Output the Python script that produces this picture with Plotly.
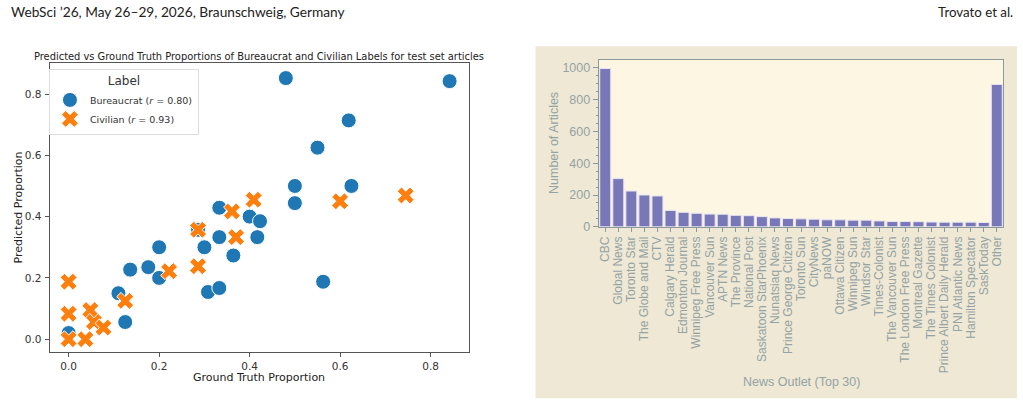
import plotly.graph_objects as go

W, H = 1023, 415

# ---------------- data: left scatter ----------------
bur_x = [0.0, 0.11, 0.125, 0.136, 0.176, 0.2, 0.2, 0.286, 0.3, 0.308, 0.333, 0.333, 0.333,
         0.364, 0.4, 0.423, 0.417, 0.5, 0.5, 0.5625, 0.625, 0.48, 0.842, 0.619, 0.55]
bur_y = [0.02, 0.15, 0.056, 0.227, 0.235, 0.3, 0.2, 0.357, 0.3, 0.154, 0.429, 0.333, 0.167,
         0.273, 0.4, 0.385, 0.333, 0.5, 0.444, 0.1875, 0.5, 0.852, 0.842, 0.714, 0.625]
civ_x = [0.0, 0.0, 0.0, 0.037, 0.048, 0.056, 0.077, 0.125, 0.222, 0.286, 0.286, 0.361,
         0.37, 0.409, 0.6, 0.745]
civ_y = [0.1875, 0.083, 0.0, 0.0, 0.095, 0.056, 0.038, 0.125, 0.222, 0.357, 0.238, 0.417,
         0.333, 0.455, 0.45, 0.469]
bur_name = "Bureaucrat (<i>r</i> = 0.80)"
civ_name = "Civilian (<i>r</i> = 0.93)"
left_ticks = [0, 0.2, 0.4, 0.6, 0.8]
left_ticktext = ["0.0", "0.2", "0.4", "0.6", "0.8"]

# ---------------- data: right bar chart ----------------
outlets = ["CBC", "Global News", "Toronto Star", "The Globe and Mail", "CTV", "Calgary Herald",
           "Edmonton Journal", "Winnipeg Free Press", "Vancouver Sun", "APTN News", "The Province",
           "National Post", "Saskatoon StarPhoenix", "Nunatsiaq News", "Prince George Citizen",
           "Toronto Sun", "CityNews", "paNOW", "Ottawa Citizen", "Winnipeg Sun", "Windsor Star",
           "Times-Colonist", "The Vancouver Sun", "The London Free Press", "Montreal Gazette",
           "The Times Colonist", "Prince Albert Daily Herald", "PNI Atlantic News",
           "Hamilton Spectator", "SaskToday", "Other"]
counts = [995, 303, 225, 200, 194, 103, 91, 85, 80, 79, 72, 70, 64, 56, 52, 50, 48, 44, 44,
          42, 42, 37, 33, 33, 32, 30, 29, 29, 29, 27, 895]

def px(x):
    return x / W

def py(y):
    return 1 - y / H

fig = go.Figure()

fig.add_trace(go.Scatter(
    x=bur_x, y=bur_y, mode="markers", name=bur_name,
    marker=dict(symbol="circle", size=15, color="#1f77b4", line=dict(color="white", width=1)),
    xaxis="x", yaxis="y"))
fig.add_trace(go.Scatter(
    x=civ_x, y=civ_y, mode="markers", name=civ_name,
    marker=dict(symbol="x", size=15, color="#ff7f0e", line=dict(color="white", width=1)),
    xaxis="x", yaxis="y"))

fig.add_trace(go.Bar(
    x=outlets, y=counts, width=0.84, showlegend=False,
    marker=dict(color="#7878b8", line=dict(color="#e9e4f0", width=1)),
    xaxis="x2", yaxis="y2"))

dark = "#333333"
sol_txt = "#95a3a3"
sol_line = "#8a9999"

fig.update_layout(
    width=W, height=H,
    margin=dict(l=0, r=0, t=0, b=0),
    paper_bgcolor="white",
    plot_bgcolor="rgba(0,0,0,0)",
    font=dict(family="DejaVu Sans", size=10, color=dark),
    xaxis=dict(domain=[px(48.7), px(468.3)], range=[-0.042, 0.8845], anchor="y",
               showgrid=False, zeroline=False, showline=True, mirror=True,
               linecolor="#555555", linewidth=1, ticks="outside", ticklen=4,
               tickcolor="#555555", tickvals=left_ticks, ticktext=left_ticktext,
               ticklabelstandoff=1,
               tickfont=dict(family="DejaVu Sans", size=10.5, color=dark)),
    yaxis=dict(domain=[py(357.7), py(64)], range=[-0.0407, 0.9015], anchor="x",
               showgrid=False, zeroline=False, showline=True, mirror=True,
               linecolor="#555555", linewidth=1, ticks="outside", ticklen=4,
               tickcolor="#555555", tickvals=left_ticks, ticktext=left_ticktext,
               ticklabelstandoff=1,
               tickfont=dict(family="DejaVu Sans", size=10.5, color=dark)),
    xaxis2=dict(domain=[px(598.3), px(1003.3)], range=[-0.5, 30.5], anchor="y2",
                type="category", showgrid=False, zeroline=False, showline=True, mirror=True,
                linecolor=sol_line, linewidth=1, ticks="outside", ticklen=4,
                tickcolor=sol_line, tickangle=-90, tickmode="array", tickvals=outlets,
                ticktext=outlets,
                tickfont=dict(family="Liberation Sans", size=12, color=sol_txt)),
    yaxis2=dict(domain=[py(230.7), py(61)], range=[0, 1049], anchor="x2",
                showgrid=False, zeroline=False, showline=True, mirror=True,
                linecolor=sol_line, linewidth=1, ticks="outside", ticklen=5,
                tickcolor=sol_line, dtick=200,
                minor=dict(ticks="outside", ticklen=2, dtick=50, tickcolor=sol_line),
                tickfont=dict(family="Liberation Sans", size=12.5, color=sol_txt)),
    legend=dict(x=px(48), y=py(70), xanchor="left", yanchor="top",
                bgcolor="rgba(255,255,255,0.9)", bordercolor="#dddddd", borderwidth=1,
                font=dict(family="DejaVu Sans", size=9.5, color=dark),
                title=dict(text="Label", side="top center",
                           font=dict(family="DejaVu Sans", size=12, color=dark)),
                tracegroupgap=0),
    shapes=[
        dict(type="rect", xref="paper", yref="paper", x0=px(535), x1=px(1017),
             y0=py(405), y1=py(47), fillcolor="#eee8d5", line=dict(width=0), layer="below"),
        dict(type="rect", xref="paper", yref="paper", x0=px(598.3), x1=px(1003.3),
             y0=py(230.7), y1=py(61), fillcolor="#fdf6e3", line=dict(width=0), layer="below"),
    ],
    annotations=[
        dict(text="WebSci \u201926, May 26\u201329, 2026, Braunschweig, Germany",
             x=px(8), y=py(12), xref="paper", yref="paper", xanchor="left", yanchor="middle",
             showarrow=False, font=dict(family="Lato", size=13.7, color="#222222")),
        dict(text="Trovato et al.", x=px(1015), y=py(12), xref="paper", yref="paper",
             xanchor="right", yanchor="middle", showarrow=False,
             font=dict(family="Lato", size=13.3, color="#222222")),
        dict(text="Predicted vs Ground Truth Proportions of Bureaucrat and Civilian Labels for test set articles",
             x=px(258.5), y=py(57.5), xref="paper", yref="paper", xanchor="center",
             yanchor="middle", showarrow=False,
             font=dict(family="DejaVu Sans", size=9.9, color="#222222")),
        dict(text="Ground Truth Proportion", x=px(258.5), y=py(383.5), xref="paper",
             yref="paper", xanchor="center", yanchor="middle", showarrow=False,
             borderpad=0,
             font=dict(family="DejaVu Sans", size=11, color="#222222")),
        dict(text="Predicted Proportion", x=px(17), y=py(211), xref="paper", yref="paper",
             xanchor="center", yanchor="middle", textangle=-90, showarrow=False,
             font=dict(family="DejaVu Sans", size=11, color="#222222")),
        dict(text="Number of Articles", x=px(553), y=py(145), xref="paper", yref="paper",
             xanchor="center", yanchor="middle", textangle=-90, showarrow=False,
             font=dict(family="Liberation Sans", size=12.5, color=sol_txt)),
        dict(text="News Outlet (Top 30)", x=px(801), y=py(389), xref="paper", yref="paper",
             xanchor="center", yanchor="middle", showarrow=False,
             font=dict(family="Liberation Sans", size=12.5, color=sol_txt)),
    ],
)

fig.write_html("out.html")
